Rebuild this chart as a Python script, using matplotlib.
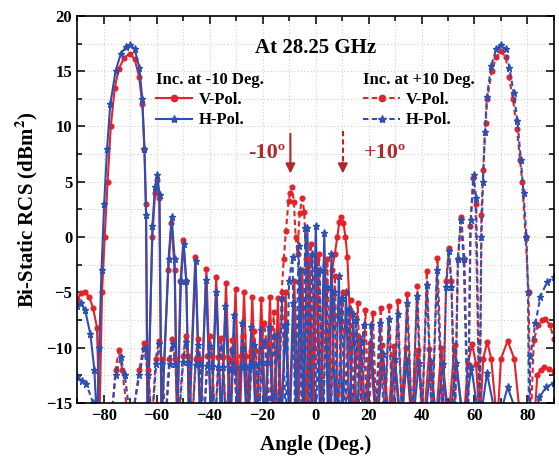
"""plot.py: bi-static RCS at 28.25 GHz for two incidence angles"""
import numpy as np
import matplotlib
matplotlib.use("Agg")
import matplotlib.pyplot as plt
from matplotlib.ticker import MultipleLocator
from matplotlib.lines import Line2D

RED = '#E3232A'
BLUE = '#2D4FB3'
DARK_RED = '#B3262C'

# (angle, RCS) samples, -17 = null below the axis
v_pol_m10 = [
    (-90, -5.6), (-88.5, -5.1), (-87, -5.0), (-85.5, -5.4), (-84, -6.4), (-82.5, -8.2), (-81.6, -17),
    (-80.6, -5), (-79.6, 0), (-78.5, 5), (-77.3, 10), (-75.8, 13.5), (-74.3, 15.2), (-72.3, 16.2),
    (-70.2, 16.6), (-68.3, 16.1), (-66.6, 14.5), (-65.4, 12), (-64.6, 8), (-64.0, 3), (-63.5, -17),
    (-61.6, 0), (-60.6, 4), (-59.8, 5.2), (-59.0, 3.5), (-58.2, -17),
    (-55.6, -3), (-54.4, 1.3), (-53.2, -3), (-52.3, -17),
    (-51.0, -4), (-49.9, -0.3), (-48.8, -4), (-47.8, -17),
    (-45.4, -1.8), (-43.6, -17), (-41.2, -2.9), (-39.4, -17),
    (-37.5, -3.6), (-35.6, -17), (-33.8, -4.2), (-32.0, -17),
    (-30.2, -4.7), (-28.6, -17), (-27.0, -5.0), (-25.4, -17),
    (-23.9, -5.4), (-22.2, -17), (-20.5, -5.6), (-18.8, -17),
    (-17.2, -5.4), (-15.7, -17), (-14.2, -5.5), (-12.8, -17),
    (-11.3, -5.0), (-9.7, -17), (-8.0, -4.0), (-6.5, -17),
    (-5.0, -3.0), (-3.7, -17), (-2.3, -2.2), (-0.9, -17),
    (0.5, -2.0), (2.0, -17), (3.5, -2.5), (5.0, -17),
    (6.2, -3.0), (7.3, -1.5), (8.2, 0), (9.0, 1.4), (9.7, 1.84), (10.5, 1.3),
    (11.3, 0), (12.0, -1.8), (12.9, -6.7), (13.6, -17),
    (16.0, -9.0), (18.2, -17), (20.5, -9.6), (22.8, -17),
    (25.0, -9.8), (27.3, -17), (29.5, -9.9), (31.8, -17),
    (34.0, -10.0), (36.3, -17), (38.5, -10.2), (40.8, -17),
    (43.0, -10.1), (45.3, -17), (47.5, -10.0), (50.0, -17),
    (52.5, -9.8), (55.8, -17), (57.5, -11.5), (59.1, -9.7), (60.6, -11.5), (62.0, -17),
    (63.3, -11), (64.8, -9.5), (66.3, -11), (68.6, -17),
    (70.0, -11), (72.5, -9.4), (75.0, -11), (77.5, -17),
    (82.5, -17), (83.7, -12.5), (85.0, -12.0), (86.3, -11.8), (88.0, -11.9), (90, -12.1),
]

h_pol_m10 = [
    (-90, -6.2), (-88.7, -6.0), (-87, -6.6), (-85, -8.8), (-83.5, -12.0), (-82.5, -17),
    (-81.7, -10), (-80.8, -3), (-79.8, 3), (-78.7, 8), (-77.5, 12), (-75.5, 15), (-73.5, 16.6),
    (-71.5, 17.2), (-70, 17.4), (-68.3, 17.0), (-66.5, 15.3), (-65.4, 12.5), (-64.6, 8), (-64.0, 2),
    (-63.3, -17),
    (-61.6, 1), (-60.6, 4.5), (-59.7, 5.6), (-58.9, 3.8), (-58.1, -17),
    (-55.5, -2), (-54.3, 1.8), (-53.2, -2), (-52.2, -17),
    (-50.8, -4), (-49.8, -0.6), (-48.8, -4), (-47.7, -17),
    (-45.3, -2.2), (-43.4, -17), (-41.4, -3.9), (-39.4, -17),
    (-37.5, -5.0), (-35.6, -17), (-34.0, -6.2), (-32.3, -17),
    (-30.8, -7.1), (-29.2, -17), (-27.7, -7.8), (-26.0, -17),
    (-24.2, -8.1), (-22.5, -17), (-20.6, -8.4), (-19.2, -17),
    (-17.6, -8.1), (-16.0, -17), (-14.5, -8.9), (-13.0, -17),
    (-11.3, -8.0), (-9.9, -17), (-8.5, -6.0), (-7.1, -17),
    (-5.8, -3.0), (-4.5, -17), (-3.1, 0.8), (-1.6, -17),
    (0.1, 1.0), (1.7, -17), (3.3, 0.4), (4.7, -17),
    (6.0, -1.5), (7.4, -17), (8.8, -3.5), (10.1, -17),
    (11.5, -5.0), (12.8, -17), (14.2, -7.0), (15.6, -17),
    (17.0, -9.3), (19.0, -17), (21.0, -10.0), (23.2, -17),
    (25.5, -10.6), (27.8, -17), (30.0, -11.0), (32.2, -17),
    (34.5, -11.2), (36.7, -17), (39.0, -11.4), (41.2, -17),
    (43.5, -11.3), (45.7, -17), (48.0, -11.5), (50.5, -17),
    (53.0, -11.4), (55.8, -17), (58.8, -11.8), (62.0, -17),
    (64.7, -12.3), (68.6, -17), (72.5, -13.6), (77.5, -17),
    (82.8, -17), (84.5, -14.5), (87.0, -13.6), (90, -13.2),
]

v_pol_p10 = [
    (-90, -17), (-77.2, -17), (-75.5, -12), (-74.2, -10.2), (-73.0, -12), (-70.5, -17),
    (-69.5, -17), (-66.5, -12), (-64.8, -9.6), (-63.2, -12), (-61.8, -17),
    (-60.3, -11), (-59.2, -9.4), (-58.0, -11), (-56.8, -17),
    (-55.2, -11), (-54.1, -9.2), (-53.0, -11), (-51.8, -17),
    (-50.0, -10.8), (-49.0, -9.0), (-48.0, -10.8), (-46.6, -17),
    (-45.3, -11.0), (-44.4, -9.2), (-43.5, -11.0), (-42.2, -17),
    (-40.9, -10.8), (-40.0, -9.0), (-39.1, -10.8), (-37.9, -17),
    (-36.7, -10.9), (-35.8, -9.1), (-34.9, -10.9), (-33.7, -17),
    (-32.4, -11.1), (-31.5, -9.3), (-30.6, -11.1), (-29.4, -17),
    (-28.2, -10.8), (-27.3, -9.0), (-26.4, -10.8), (-25.3, -17),
    (-24.2, -10.3), (-23.3, -8.5), (-22.4, -10.3), (-21.4, -17),
    (-20.3, -9.6), (-19.4, -7.8), (-18.5, -9.6), (-17.6, -17),
    (-15.8, -6.8), (-14.2, -17),
    (-12.8, -5), (-12.0, -2), (-11.2, 0.5), (-10.2, 3.3), (-9.5, 4.0), (-8.8, 4.5), (-8.2, 3.2),
    (-7.5, 0), (-6.8, -1.5), (-6.0, 2.2), (-5.0, 3.5), (-4.3, 2.3), (-3.5, -2), (-2.8, -17),
    (-1.9, -0.6), (-0.4, -17), (1.2, -1.5), (2.7, -17),
    (4.4, -2.0), (5.8, -17), (7.3, -3.5), (8.7, -17),
    (10.2, -5.0), (11.7, -17), (13.2, -5.7), (14.6, -17),
    (15.9, -6.0), (17.4, -17), (18.8, -6.6), (20.2, -17),
    (21.6, -6.85), (23.1, -17), (24.6, -6.4), (26.2, -17),
    (27.8, -6.25), (29.4, -17), (31.0, -5.8), (32.8, -17),
    (34.6, -5.2), (36.5, -17), (38.4, -4.4), (40.2, -17),
    (42.0, -3.1), (44.0, -17), (46.0, -1.9), (48.1, -17),
    (49.3, -4), (50.3, -1.0), (51.3, -4), (52.6, -17),
    (53.8, -2), (55.0, 1.8), (56.2, -2), (57.6, -17),
    (58.4, 1), (59.5, 5.3), (60.4, 3), (61.9, -17),
    (62.6, 2), (63.3, 6.1), (64.2, 10.3), (64.8, 12.5), (66.5, 15), (68.2, 16.3), (70, 16.8),
    (71.8, 16.3), (73.0, 14.5), (74.5, 12.5), (76.0, 9.8), (77.2, 7), (78.0, 5), (79.3, 0),
    (80.4, -5), (81.2, -17),
    (82.4, -9.3), (84.0, -8), (85.5, -7.5), (86.8, -7.4), (88.5, -8), (90, -9.2),
]

h_pol_p10 = [
    (-90, -12.7), (-88, -13.0), (-86.5, -13.3), (-84, -15), (-83, -17), (-77.3, -17),
    (-75.5, -12.5), (-73.5, -10.9), (-72.0, -12.5), (-69.7, -17),
    (-66.5, -12.5), (-64.7, -10.1), (-63.2, -12.5), (-61.8, -17),
    (-60.2, -11.5), (-59.0, -9.7), (-57.9, -11.5), (-56.7, -17),
    (-55.1, -11.5), (-54.0, -9.7), (-52.9, -11.5), (-51.7, -17),
    (-50.0, -11.3), (-49.0, -9.5), (-48.0, -11.3), (-46.6, -17),
    (-45.3, -11.6), (-44.4, -9.8), (-43.5, -11.6), (-42.2, -17),
    (-40.9, -11.7), (-40.0, -9.9), (-39.1, -11.7), (-37.9, -17),
    (-36.7, -11.8), (-35.8, -10.0), (-34.9, -11.8), (-33.7, -17),
    (-32.4, -12.0), (-31.5, -10.2), (-30.6, -12.0), (-29.4, -17),
    (-28.2, -11.8), (-27.3, -10.0), (-26.4, -11.8), (-25.3, -17),
    (-24.2, -11.6), (-23.3, -9.8), (-22.4, -11.6), (-21.4, -17),
    (-20.3, -11.3), (-19.4, -9.5), (-18.5, -11.3), (-17.6, -17),
    (-15.8, -9.0), (-14.2, -17),
    (-12.6, -5.5), (-11.3, -17), (-10.0, -4.0), (-8.7, -1.8), (-7.7, -17),
    (-6.4, -0.8), (-5.2, -17), (-3.8, 0.8), (-2.5, -17),
    (-1.2, -1.5), (0.2, -17), (1.5, -3.0), (2.9, -17),
    (4.2, -4.5), (5.6, -17), (7.0, -5.0), (8.4, -17),
    (9.8, -5.5), (11.2, -17), (12.5, -6.5), (13.9, -17),
    (15.3, -7.5), (16.7, -17), (18.1, -8.0), (19.5, -17),
    (21.0, -8.0), (22.6, -17), (24.2, -7.8), (25.9, -17),
    (27.6, -7.4), (29.3, -17), (31.0, -7.0), (32.8, -17),
    (34.5, -6.0), (36.4, -17), (38.3, -5.3), (40.1, -17),
    (42.0, -4.3), (43.9, -17), (45.8, -3.0), (47.9, -17),
    (49.3, -4.5), (50.3, -1.3), (51.3, -4.5), (52.6, -17),
    (53.7, -2), (54.8, 1.5), (55.9, -2), (57.5, -17),
    (58.6, 1.5), (59.7, 5.6), (60.6, 3.5), (62.0, -17),
    (62.6, 0), (63.2, 5), (63.9, 9.5), (64.7, 12.7), (66.3, 15.5), (68.2, 17.0), (70, 17.4),
    (71.8, 17.0), (73.2, 15.3), (74.8, 13), (76.2, 10.5), (77.5, 7), (78.5, 4), (79.6, 0),
    (80.2, -5), (80.6, -17),
    (81.1, -10.8), (83.0, -7.8), (84.9, -5.4), (87.4, -4.05), (90, -3.65),
]

DASH = (0, (2.6, 1.6))

series = [
    (v_pol_m10, RED, '-', 'o', 3.4),
    (h_pol_m10, BLUE, '-', '*', 5.2),
    (v_pol_p10, RED, DASH, 'o', 3.4),
    (h_pol_p10, BLUE, DASH, '*', 5.2),
]

plt.rcParams['font.family'] = ['Liberation Serif', 'DejaVu Serif']
plt.rcParams['font.weight'] = 'bold'
plt.rcParams['axes.labelweight'] = 'bold'
plt.rcParams['mathtext.fontset'] = 'stix'

fig = plt.figure(figsize=(5.59, 4.70), dpi=100)
ax = fig.add_axes([0.138, 0.143, 0.853, 0.823])

for data, color, ls, marker, ms in series:
    pts = np.array(data)
    ax.plot(pts[:, 0], pts[:, 1], color=color, ls=ls, lw=1.5, marker=marker,
            ms=ms, mec=color, mfc=color)

ax.set_xlim(-90, 90)
ax.set_ylim(-15, 20)
ax.xaxis.set_major_locator(MultipleLocator(20))
ax.xaxis.set_minor_locator(MultipleLocator(10))
ax.yaxis.set_major_locator(MultipleLocator(5))
ax.yaxis.set_minor_locator(MultipleLocator(2.5))
ax.grid(which='both', ls=(0, (1, 2)), color='#cfcfcf', lw=0.8)
ax.set_axisbelow(True)
ax.tick_params(which='both', direction='in', top=True, right=True, labelsize=12, width=1.1)
ax.tick_params(which='major', length=6)
ax.tick_params(which='minor', length=3.5)
for sp in ax.spines.values():
    sp.set_linewidth(1.2)

ax.set_xlabel('Angle (Deg.)', fontsize=15, labelpad=8)
ax.set_ylabel(r'Bi-Static RCS (dBm$^{\mathbf{2}}$)', fontsize=15, labelpad=4)

ax.text(0, 17.1, 'At 28.25 GHz', fontsize=15, ha='center', va='center')

# arrows marking the incidence directions
ax.annotate('', xy=(-9.5, 5.5), xytext=(-9.5, 9.6),
            arrowprops=dict(arrowstyle='-|>', color=DARK_RED, lw=1.5, mutation_scale=14))
ax.plot([10.3, 10.3], [9.6, 6.8], color=DARK_RED, lw=1.5, ls=(0, (2.5, 1.5)))
ax.annotate('', xy=(10.3, 5.5), xytext=(10.3, 7.0),
            arrowprops=dict(arrowstyle='-|>', color=DARK_RED, lw=1.5, mutation_scale=14))
ax.text(-18.5, 7.6, '-10º', fontsize=16, color=DARK_RED, ha='center', va='center')
ax.text(26.4, 7.6, '+10º', fontsize=16, color=DARK_RED, ha='center', va='center')

leg_style = dict(frameon=False, fontsize=12, handlelength=2.2, handletextpad=0.35,
                 labelspacing=0.25, borderpad=0, borderaxespad=0, numpoints=1,
                 alignment='left', title_fontsize=12)
h1 = [Line2D([], [], color=RED, lw=1.5, marker='o', ms=4.5),
      Line2D([], [], color=BLUE, lw=1.5, marker='*', ms=6)]
leg1 = ax.legend(h1, ['V-Pol.', 'H-Pol.'], title='Inc. at -10 Deg.', loc='upper left',
                 bbox_to_anchor=(0.165, 0.855), **leg_style)
ax.add_artist(leg1)
h2 = [Line2D([], [], color=RED, lw=1.5, ls=DASH, marker='o', ms=4.5),
      Line2D([], [], color=BLUE, lw=1.5, ls=DASH, marker='*', ms=6)]
ax.legend(h2, ['V-Pol.', 'H-Pol.'], title='Inc. at +10 Deg.', loc='upper left',
          bbox_to_anchor=(0.6, 0.855), **leg_style)

fig.savefig('out.png', dpi=100)
